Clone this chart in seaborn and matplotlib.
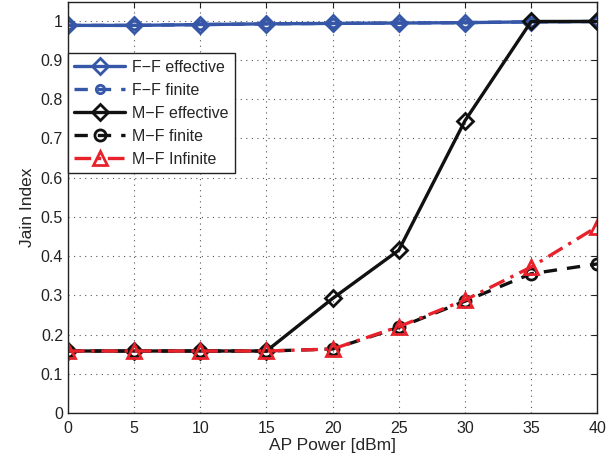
import matplotlib
matplotlib.use("Agg")
import matplotlib.pyplot as plt
import seaborn as sns
import numpy as np

# AP transmit power sweep
ap_power = [0, 5, 10, 15, 20, 25, 30, 35, 40]

# Jain fairness index per scheme
ff_effective = [0.988, 0.988, 0.990, 0.992, 0.993, 0.994, 0.995, 0.997, 0.998]
ff_finite = [0.988, 0.988, 0.990, 0.992, 0.993, 0.994, 0.995, 0.997, 0.998]
mf_effective = [0.158, 0.158, 0.158, 0.158, 0.292, 0.415, 0.745, 0.998, 0.998]
mf_finite = [0.158, 0.158, 0.158, 0.158, 0.163, 0.218, 0.285, 0.355, 0.380]
mf_infinite = [0.158, 0.158, 0.158, 0.158, 0.163, 0.220, 0.288, 0.372, 0.475]

labels = ["F\u2212F effective", "F\u2212F finite", "M\u2212F effective",
          "M\u2212F finite", "M\u2212F Infinite"]
y_ticks = [0, 0.1, 0.2, 0.3, 0.4, 0.5, 0.6, 0.7, 0.8, 0.9, 1]
y_ticklabels = ["0", "0.1", "0.2", "0.3", "0.4", "0.5", "0.6", "0.7", "0.8", "0.9", "1"]

sns.set_style("white")
plt.rcParams["font.family"] = ["Liberation Sans", "DejaVu Sans"]

blue = "#3656a8"
black = "#111111"
red = "#e8222b"

fig = plt.figure(figsize=(6.12, 4.63), dpi=100)
ax = fig.add_axes([0.111, 0.108, 0.865, 0.888])

series = [
    (ff_effective, blue, "-", "D", 8),
    (ff_finite, blue, (0, (4, 3)), "o", 6),
    (mf_effective, black, "-", "D", 8),
    (mf_finite, black, (0, (4, 3)), "o", 8),
    (mf_infinite, red, (0, (5, 2, 1, 2)), "^", 10),
]
for (vals, col, ls, mk, ms), lab in zip(series, labels):
    sns.lineplot(x=ap_power, y=vals, ax=ax, color=col, linestyle=ls, linewidth=2.4,
                 marker=mk, markersize=ms, markerfacecolor="none",
                 markeredgecolor=col, markeredgewidth=2.0, label=lab)

ax.set_xlim(0, 40)
ax.set_ylim(0, 1.048)
ax.set_xticks(ap_power)
ax.set_xticklabels([str(v) for v in ap_power])
ax.set_yticks(y_ticks)
ax.set_yticklabels(y_ticklabels)
ax.tick_params(direction="in", length=4, width=0.8, labelsize=11.5, top=True, right=True,
               colors="#222222")
ax.tick_params(axis="x", pad=6)
ax.grid(True, linestyle=(0, (1, 4)), color="#555555", linewidth=0.8)
for s in ax.spines.values():
    s.set_color("#222222")
    s.set_linewidth(1.0)
ax.set_xlabel("AP Power [dBm]", fontsize=12.5, labelpad=1)
ax.set_ylabel("Jain Index", fontsize=12.5, labelpad=4)

leg = ax.legend(loc="upper left", bbox_to_anchor=(0.0, 0.875), fontsize=11.5,
                frameon=True, fancybox=False, edgecolor="#222222", framealpha=1,
                handlelength=3.2, borderpad=0.4, labelspacing=0.5,
                handletextpad=0.4, borderaxespad=0)
leg.get_frame().set_linewidth(1.0)

fig.savefig("out.png", dpi=100)
